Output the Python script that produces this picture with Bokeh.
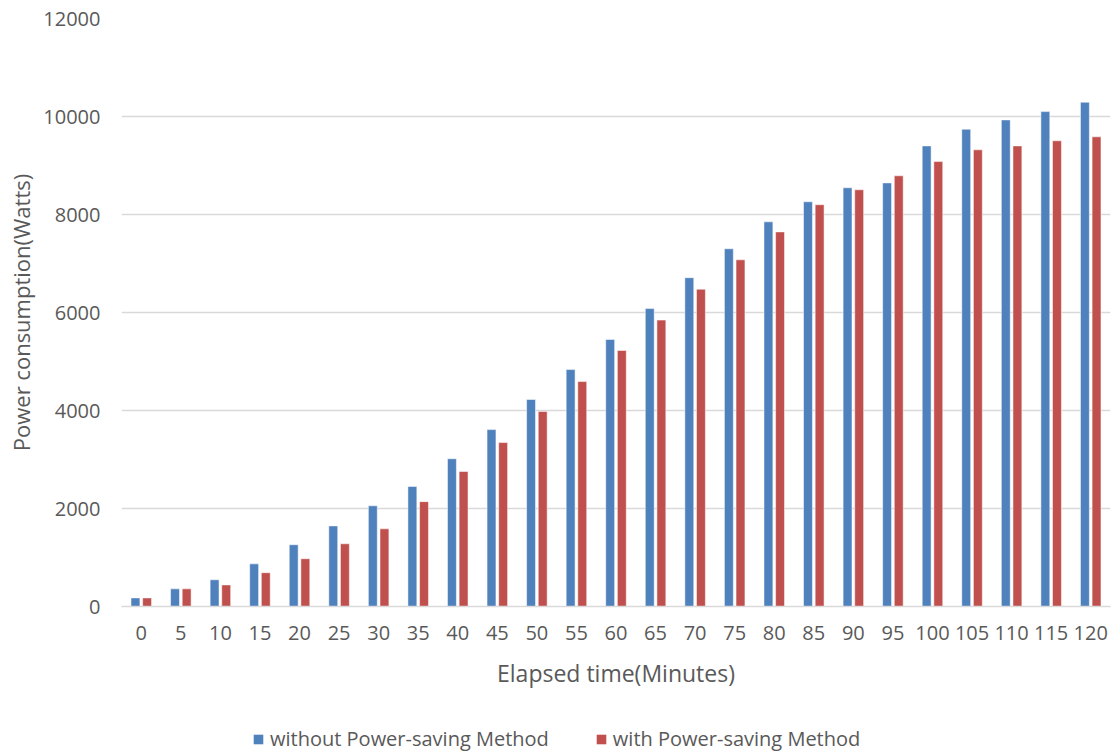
from bokeh.plotting import figure
from bokeh.layouts import column
from bokeh.models import FactorRange, Range1d, Legend, LegendItem, ColumnDataSource, FixedTicker
from bokeh.transform import dodge
from bokeh.embed import file_html
from bokeh.resources import INLINE

minutes = ["0", "5", "10", "15", "20", "25", "30", "35", "40", "45", "50", "55", "60",
           "65", "70", "75", "80", "85", "90", "95", "100", "105", "110", "115", "120"]
without_saving = [175, 360, 545, 870, 1260, 1645, 2055, 2450, 3015, 3610, 4225, 4835, 5450,
                  6080, 6710, 7300, 7850, 8260, 8545, 8645, 9400, 9740, 9930, 10100, 10290]
with_saving = [175, 360, 440, 690, 975, 1280, 1585, 2140, 2755, 3345, 3980, 4590, 5225,
               5845, 6475, 7075, 7645, 8200, 8505, 8790, 9080, 9320, 9400, 9505, 9585]
y_ticks = [0, 2000, 4000, 6000, 8000, 10000, 12000]
series_names = ["without Power-saving Method", "with Power-saving Method"]

FONT = "Open Sans"
TXT = "#595959"
BLUE = "#4F81BD"
RED = "#C0504D"

src = ColumnDataSource(dict(x=minutes, a=without_saving, b=with_saving))

p = figure(frame_width=989, frame_height=588, x_range=FactorRange(factors=minutes, range_padding=0),
           y_range=Range1d(0, 12000), output_backend="svg", toolbar_location=None,
           min_border_left=121, min_border_right=4, min_border_top=18, min_border_bottom=90)

r1 = p.vbar(x=dodge("x", -0.147, range=p.x_range), top="a", width=0.225, source=src,
            fill_color=BLUE, line_color="#ffffff", line_alpha=0.5, line_width=1)
r2 = p.vbar(x=dodge("x", 0.147, range=p.x_range), top="b", width=0.225, source=src,
            fill_color=RED, line_color="#ffffff", line_alpha=0.5, line_width=1)

p.outline_line_color = None
p.xgrid.grid_line_color = None
p.ygrid.grid_line_color = "#D9D9D9"
p.ygrid.grid_line_width = 1.5
p.yaxis.ticker = FixedTicker(ticks=y_ticks)

for ax in (p.xaxis[0], p.yaxis[0]):
    ax.major_tick_out = 0
    ax.major_tick_in = 0
    ax.minor_tick_out = 0
    ax.minor_tick_in = 0
    ax.major_label_text_font = FONT
    ax.major_label_text_font_size = "20px"
    ax.major_label_text_color = TXT
    ax.axis_label_text_font = FONT
    ax.axis_label_text_font_size = "23px"
    ax.axis_label_text_font_style = "normal"
    ax.axis_label_text_color = TXT

p.yaxis.axis_line_color = None
p.yaxis.axis_label = "Power consumption(Watts)"
p.yaxis.axis_label_text_font_size = "22px"
p.yaxis.major_label_standoff = 21
p.yaxis.axis_label_standoff = 4

p.xaxis.axis_line_color = "#D9D9D9"
p.xaxis.axis_line_width = 1.5
p.xaxis.axis_label = "Elapsed time(Minutes)"
p.xaxis.major_label_standoff = 19
p.xaxis.axis_label_standoff = 14

# legend strip below the chart
lg = figure(width=1114, height=56, x_range=Range1d(0, 1), y_range=Range1d(0, 1),
            output_backend="svg", toolbar_location=None, x_axis_location=None,
            y_axis_location=None, min_border=0)
lg.outline_line_color = None
lg.grid.visible = False
swatch = ColumnDataSource(dict(x=[-10], top=[-10]))
d1 = lg.vbar(x="x", top="top", width=0.1, source=swatch, fill_color=BLUE, line_color=None)
d2 = lg.vbar(x="x", top="top", width=0.1, source=swatch, fill_color=RED, line_color=None)
legend = Legend(items=[LegendItem(label=series_names[0], renderers=[d1]),
                       LegendItem(label=series_names[1], renderers=[d2])],
                orientation="horizontal", location=(131, 0),
                label_text_font=FONT, label_text_font_size="20px", label_text_color=TXT,
                glyph_width=12, glyph_height=12, label_standoff=6, spacing=46,
                border_line_color=None, background_fill_alpha=0, margin=0, padding=0)
lg.add_layout(legend, "center")

layout = column(p, lg, spacing=0)
open("out.html", "w").write(file_html(layout, INLINE))
